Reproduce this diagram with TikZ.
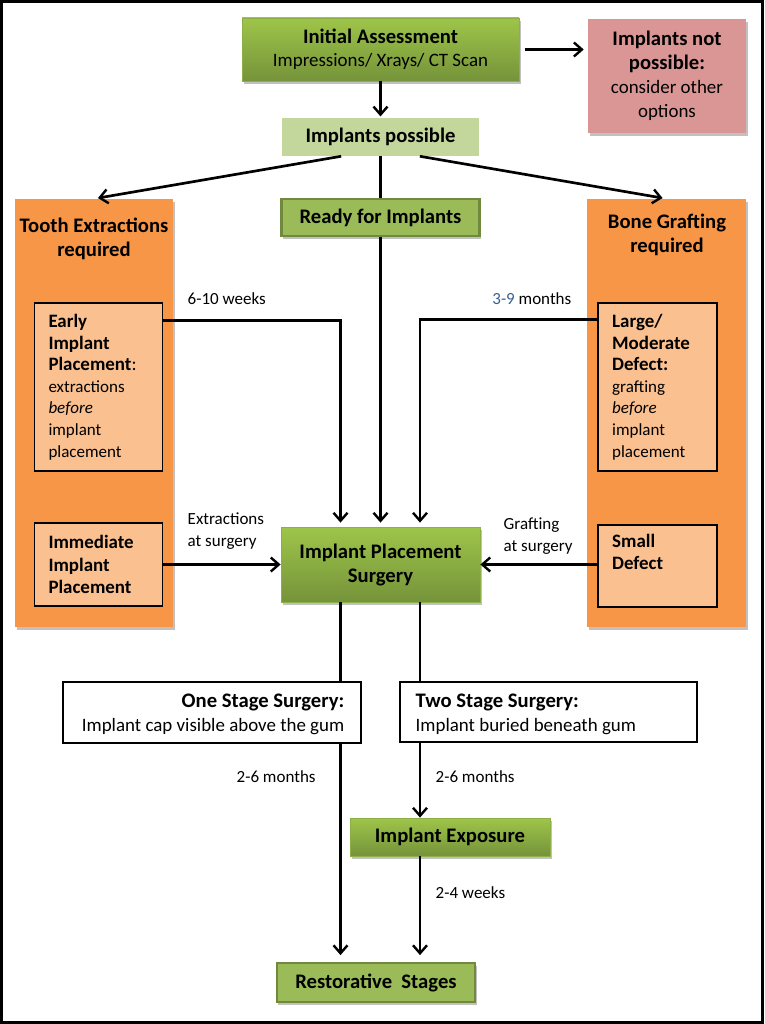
\documentclass[tikz,border=0pt]{standalone}
\usepackage{fontspec}
\setmainfont{Carlito}
\definecolor{greentop}{RGB}{158,197,74}
\definecolor{greenbot}{RGB}{117,147,58}
\definecolor{greenedge}{RGB}{140,176,70}
\definecolor{greenflat}{RGB}{155,187,89}
\definecolor{greendark}{RGB}{113,137,63}
\definecolor{paleg}{RGB}{195,214,155}
\definecolor{pinkbox}{RGB}{217,150,148}
\definecolor{orangecol}{RGB}{247,150,70}
\definecolor{peach}{RGB}{250,192,144}
\definecolor{monthblue}{RGB}{54,96,146}
\usetikzlibrary{shapes,arrows.meta,positioning,calc,shadows}

\begin{document}
\begin{tikzpicture}[x=0.75pt, y=-0.75pt,
    shade/.style={drop shadow={shadow xshift=1.2pt, shadow yshift=-2.2pt, opacity=0.35, fill=black!70}},
    bigtxt/.style={font=\fontsize{15.5}{18}\selectfont},
    smalltxt/.style={font=\fontsize{12.75}{16.2}\selectfont},
    gbox/.style={shade, top color=greentop, bottom color=greenbot, draw=greenedge, line width=0.6pt, align=center, bigtxt, inner sep=0pt},
    flatbox/.style={shade, fill=greenflat, draw=greendark, line width=1.6pt, align=center, bigtxt, inner sep=0pt},
    colbox/.style={shade, fill=orangecol, inner sep=0pt},
    peachbox/.style={fill=peach, draw=black, line width=1.1pt, align=left, smalltxt, inner xsep=10.5pt, inner ysep=0pt},
    plainbox/.style={draw=black, line width=1.1pt, inner sep=0pt, bigtxt},
    arr/.style={-{Straight Barb[length=6pt, width=10.5pt, line width=1.8pt]}, line width=2pt, shorten >=3pt},
    conn/.style={line width=2pt}
]
\useasboundingbox (0,0) rectangle (764,1024);
\draw[line width=2.25pt] (1.5,1.5) rectangle (762.5,1022.5);

% top part
\node[gbox, minimum width=207.75pt, minimum height=47.25pt] (init) at (380.5,49.5)
    {\textbf{Initial Assessment}\\[-1pt]{\fontsize{14.2}{17}\selectfont Impressions/ Xrays/ CT Scan}};
\node[shade, fill=pinkbox, minimum width=118.5pt, minimum height=85.5pt, align=center, bigtxt, inner sep=0pt] (notposs) at (667,76)
    {\textbf{Implants not}\\\textbf{possible:}\\{\fontsize{14.2}{17}\selectfont consider other}\\{\fontsize{14.2}{17}\selectfont options}};
\node[fill=paleg, minimum width=147.75pt, minimum height=28.5pt, bigtxt, inner sep=0pt] (possible) at (380.5,137) {\textbf{Implants possible}};
\node[flatbox, minimum width=148.5pt, minimum height=27.75pt] (ready) at (380.5,217.5) {\textbf{Ready for Implants}};

% side columns
\node[colbox, minimum width=118.5pt, minimum height=321pt] (tooth) at (94,413) {};
\node[bigtxt, align=center, anchor=north] (toothtitle) at (94,213) {\textbf{Tooth Extractions}\\\textbf{required}};
\node[colbox, minimum width=119.25pt, minimum height=321pt] (bone) at (666.5,413) {};
\node[bigtxt, align=center, anchor=north] (bonetitle) at (667,209) {\textbf{Bone Grafting}\\\textbf{required}};

\node[peachbox, text width=75pt, minimum height=126pt] (early) at (98.5,387)
    {{\fontsize{14.2}{16.2}\selectfont\textbf{Early}\\\textbf{Implant}\\\textbf{Placement}:}\\extractions\\\textit{before}\\implant\\placement};
\node[peachbox, text width=75pt, minimum height=62.25pt] (immed) at (98.5,564.5)
    {{\fontsize{14.2}{17}\selectfont\textbf{Immediate}\\\textbf{Implant}\\\textbf{Placement}}};
\node[peachbox, text width=68pt, minimum height=126pt] (large) at (657.5,387)
    {{\fontsize{14.2}{16.2}\selectfont\textbf{Large/}\\\textbf{Moderate}\\\textbf{Defect:}}\\grafting\\\textit{before}\\implant\\placement};
\node[peachbox, text width=68pt, minimum height=61.5pt] (small) at (657.5,566)
    {{\fontsize{14.2}{17}\selectfont\textbf{Small}\\\textbf{Defect}\\\strut}};

\node[gbox, minimum width=149.25pt, minimum height=56.25pt] (surgery) at (380.5,564.5)
    {\textbf{Implant Placement}\\\textbf{Surgery}};

% lower part
\node[plainbox, minimum width=223.5pt, minimum height=45.75pt] (onestage) at (212,712.5) {};
\node[bigtxt, align=right, anchor=east] (onetxt) at (349,714)
    {\textbf{One Stage Surgery:}\\{\fontsize{14.2}{17}\selectfont Implant cap visible above the gum}};
\node[plainbox, minimum width=222.75pt, minimum height=45pt] (twostage) at (548.5,712) {};
\node[bigtxt, align=left, anchor=west] (twotxt) at (411,714)
    {\textbf{Two Stage Surgery:}\\{\fontsize{14.2}{17}\selectfont Implant buried beneath gum}};
\node[gbox, minimum width=150pt, minimum height=28.5pt] (exposure) at (450,837) {\textbf{Implant Exposure}};
\node[flatbox, minimum width=149pt, minimum height=29.5pt] (restor) at (376,982.5) {\textbf{Restorative\ \ Stages}};

\coordinate (lx) at (340.5,0);
\coordinate (rx) at (420,0);

% connectors
\draw[arr, shorten <=4pt] (init.east) -- (init.east -| notposs.west);
\draw[arr, shorten >=1pt] (init.south) -- (possible.north);
\draw[arr] ([xshift=-29.5pt]possible.south) -- (tooth.north);
\draw[arr] ([xshift=29.5pt]possible.south) -- (bone.north);
\draw[conn] (possible.south) -- (ready.north);
\draw[arr] (ready.south) -- (surgery.north);
\draw[arr] ([yshift=-13.5pt]early.north east) -| (surgery.north -| lx);
\draw[arr] ([yshift=-12.75pt]large.north west) -| (surgery.north -| rx);
\draw[arr, shorten >=0pt] (immed.east) -- (surgery.west);
\draw[arr, shorten >=0pt] (small.west |- surgery.east) -- (surgery.east);
\draw[conn] (surgery.south -| lx) -- (onestage.north -| lx);
\draw[arr, shorten >=5pt] (onestage.south -| lx) -- (restor.north -| lx);
\draw[conn] (surgery.south -| rx) -- (twostage.north -| rx);
\draw[arr, shorten >=0pt] (twostage.south -| rx) -- (exposure.north -| rx);
\draw[arr, shorten >=5pt] (exposure.south -| rx) -- (restor.north -| rx);

% labels
\node[smalltxt, anchor=west] (weeksa) at (183,299) {6-10 weeks};
\node[smalltxt, anchor=east] (monthsa) at (576,299) {\textcolor{monthblue}{3-9} months};
\node[smalltxt, anchor=west, align=left] (extr) at (183,531) {Extractions\\at surgery};
\node[smalltxt, anchor=west, align=left] (graft) at (499,536) {Grafting\\at surgery};
\node[smalltxt, anchor=west] (monthsb) at (232,777) {2-6 months};
\node[smalltxt, anchor=west] (monthsc) at (431,777) {2-6 months};
\node[smalltxt, anchor=west] (weeksb) at (431,893) {2-4 weeks};
\end{tikzpicture}
\end{document}
